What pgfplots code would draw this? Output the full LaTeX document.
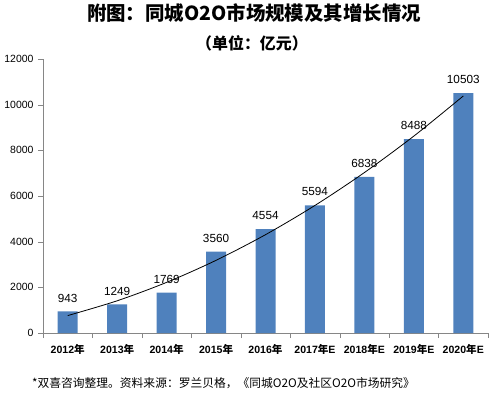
\documentclass[border=0pt]{standalone}
\usepackage{pgfplots}
\pgfplotsset{compat=1.18}
\usepackage{fontspec}
\setmainfont{Liberation Sans}
\newfontfamily\cjk{Noto Sans CJK SC}
\definecolor{barblue}{RGB}{79,129,189}
\definecolor{axgray}{RGB}{134,134,134}
\begin{document}
\begin{tikzpicture}[x=1bp,y=1bp]
\useasboundingbox (0,0) rectangle (504,398);
\node[font=\fontsize{19.5}{22}\selectfont\cjk\bfseries] at (254,385) {附图：同城O2O市场规模及其增长情况};
\node[font=\fontsize{16}{18}\selectfont\cjk\bfseries] at (252,355) {（单位：亿元）};
\node[anchor=west, font=\fontsize{11.8}{14}\selectfont\cjk, inner sep=0] at (32,15) {*双喜咨询整理。资料来源：罗兰贝格，《同城O2O及社区O2O市场研究》};
\begin{axis}[
  at={(43bp,65bp)}, anchor=south west,
  scale only axis, width=445bp, height=274bp,
  xmin=-0.5, xmax=8.5, ymin=0, ymax=12000,
  axis lines=left,
  axis line style={-, draw=axgray},
  xtick={0,...,8},
  xticklabels={2012{\cjk 年},2013{\cjk 年},2014{\cjk 年},2015{\cjk 年},2016{\cjk 年},2017{\cjk 年}E,2018{\cjk 年}E,2019{\cjk 年}E,2020{\cjk 年}E},
  minor xtick={-0.5,0.5,...,8.5},
  ytick={0,2000,...,12000},
  tick align=outside,
  major tick length=5bp, minor tick length=5bp,
  tick style={draw=axgray},
  every major x tick/.append style={draw=none},
  x tick label style={font=\fontsize{10.6}{12}\selectfont\bfseries, yshift=-3bp},
  y tick label style={font=\fontsize{10.5}{12}\selectfont, xshift=-1bp},
  /pgf/number format/assume math mode=true,
  /pgf/number format/1000 sep={},
  scaled y ticks=false,
  clip=false,
]
\addplot[ybar, bar width=20bp, bar shift=0pt, fill=barblue, draw=none,
  nodes near coords,
  every node near coord/.append style={font=\fontsize{11.8}{13}\selectfont, anchor=south, inner sep=0pt, yshift=9bp, black}]
  coordinates {(0,943) (1,1249) (2,1769) (3,3560) (4,4554) (5,5594) (6,6838) (7,8488) (8,10503)};
\addplot[smooth, black, line width=0.8bp, mark=none]
  coordinates {(0,763) (1,1411) (2,2218) (3,3183) (4,4306) (5,5587) (6,7027) (7,8624) (8,10380)};
\end{axis}
\end{tikzpicture}
\end{document}
